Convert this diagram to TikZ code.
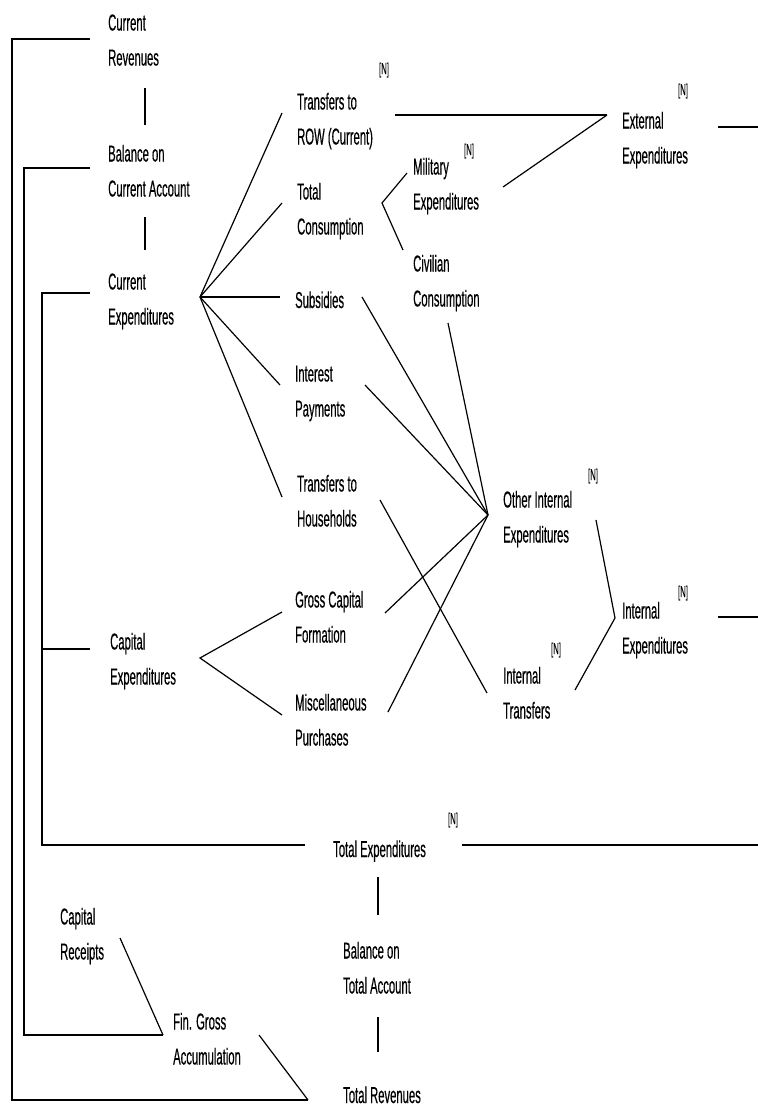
\documentclass[tikz,border=0pt]{standalone}
\usepackage{fontspec}
\setmainfont[FakeStretch=0.49,FakeBold=0.4]{Liberation Sans}
\newcommand\twoline[2]{\strut #1\\\strut #2}
\begin{document}
\begin{tikzpicture}[x=1pt,y=-1pt,
  lbl/.style={font=\fontsize{23}{35}\selectfont, align=left, inner sep=0pt, anchor=west},
  nn/.style={font=\fontsize{16}{16}\selectfont, inner sep=0pt},
  conn/.style={line width=1.2pt}]
\fill[white] (0,0) rectangle (758,1109);
\useasboundingbox (0,0) rectangle (758,1109);
% rails
\coordinate (rail1) at (12,0);
\coordinate (rail2) at (24,0);
\coordinate (rail3) at (42,0);
\coordinate (redge) at (758,0);
% labels
\node[lbl] (curRev)   at (108,41)  {\twoline{Current}{Revenues}};
\node[lbl] (balCur)   at (108,172) {\twoline{Balance on}{Current Account}};
\node[lbl] (curExp)   at (108,300) {\twoline{Current}{Expenditures}};
\node[lbl] (trROW)    at (297,120) {\twoline{Transfers to}{ROW (Current)}};
\node[lbl] (totCons)  at (297,210) {\twoline{Total}{Consumption}};
\node[lbl] (subs)     at (295,301) {\strut Subsidies};
\node[lbl] (interest) at (295,392) {\twoline{Interest}{Payments}};
\node[lbl] (trHH)     at (297,502) {\twoline{Transfers to}{Households}};
\node[lbl] (military) at (413,185) {\twoline{Military}{Expenditures}};
\node[lbl] (civilian) at (413,282) {\twoline{Civilian}{Consumption}};
\node[lbl] (external) at (622,139) {\twoline{External}{Expenditures}};
\node[lbl] (otherInt) at (503,518) {\twoline{Other Internal}{Expenditures}};
\node[lbl] (intExp)   at (622,629) {\twoline{Internal}{Expenditures}};
\node[lbl] (intTr)    at (503,694) {\twoline{Internal}{Transfers}};
\node[lbl] (capExp)   at (110,660) {\twoline{Capital}{Expenditures}};
\node[lbl] (gcf)      at (295,618) {\twoline{Gross Capital}{Formation}};
\node[lbl] (misc)     at (295,721) {\twoline{Miscellaneous}{Purchases}};
\node[lbl] (totExp)   at (333,850) {\strut Total Expenditures};
\node[lbl] (balTot)   at (343,969) {\twoline{Balance on}{Total Account}};
\node[lbl] (totRev)   at (343,1096) {\strut Total Revenues};
\node[lbl] (capRec)   at (60,935)  {\twoline{Capital}{Receipts}};
\node[lbl] (finGross) at (173,1040) {\twoline{Fin. Gross}{Accumulation}};
% [N] marks
\node[nn] (n1) at (384,70)  {[N]};
\node[nn] (n2) at (469,151) {[N]};
\node[nn] (n3) at (683,91)  {[N]};
\node[nn] (n4) at (593,476) {[N]};
\node[nn] (n5) at (683,593) {[N]};
\node[nn] (n6) at (556,650) {[N]};
\node[nn] (n7) at (453,820) {[N]};
% key points
\coordinate (crIn) at ([shift={(-18,-2)}]curRev.west);
\coordinate (trIn) at ([shift={(-35,4)}]totRev.west);
\coordinate (bcIn) at ([shift={(-18,-4)}]balCur.west);
\coordinate (fgIn) at ([shift={(-10,-5)}]finGross.west);
\coordinate (ceIn) at ([shift={(-18,-7)}]curExp.west);
\coordinate (teIn) at ([shift={(-28,-5)}]totExp.west);
\coordinate (cxIn) at ([shift={(-20,-11)}]capExp.west);
\coordinate (ceHub) at ([shift={(92,-3)}]curExp.west);
\coordinate (cxHub) at ([shift={(90,-2)}]capExp.west);
\coordinate (exIn) at ([shift={(-15,-24)}]external.west);
\coordinate (oiHub) at ([shift={(-15,-3)}]otherInt.west);
\coordinate (ieIn) at ([shift={(-7,-11)}]intExp.west);
\coordinate (tcApex) at ([shift={(85,-7)}]totCons.west);
\coordinate (teOut) at ([shift={(129,-5)}]totExp.west);
\coordinate (exOut) at ([shift={(96,-12)}]external.west);
\coordinate (ieOut) at ([shift={(96,-12)}]intExp.west);
% brackets
\draw[conn] (crIn) -- (crIn -| rail1) |- (trIn);
\draw[conn] ([shift={(86,-5)}]finGross.west) -- (trIn);
\draw[conn] (bcIn) -- (bcIn -| rail2) |- (fgIn);
\draw[conn] ([shift={(60,3)}]capRec.west) -- (fgIn);
\draw[conn] (ceIn) -- (ceIn -| rail3) |- (teIn);
\draw[conn] (cxIn) -- (cxIn -| rail3);
% right outputs
\draw[conn] (teOut) -- (teOut -| redge);
\draw[conn] (exOut) -- (exOut -| redge);
\draw[conn] (ieOut) -- (ieOut -| redge);
% verticals
\draw[conn] ([shift={(37,47)}]curRev.west) -- ([shift={(37,-47)}]balCur.west);
\draw[conn] ([shift={(37,45)}]balCur.west) -- ([shift={(37,-50)}]curExp.west);
\draw[conn] ([shift={(45,27)}]totExp.west) -- ([shift={(35,-54)}]balTot.west);
\draw[conn] ([shift={(35,48)}]balTot.west) -- ([shift={(35,-44)}]totRev.west);
% current expenditures fan
\draw[conn] (ceHub) -- ([shift={(-15,-7)}]trROW.west);
\draw[conn] (ceHub) -- ([shift={(-15,-7)}]totCons.west);
\draw[conn] (ceHub) -- ([shift={(-15,-4)}]subs.west);
\draw[conn] (ceHub) -- ([shift={(-15,-7)}]interest.west);
\draw[conn] (ceHub) -- ([shift={(-15,-5)}]trHH.west);
% external
\draw[conn] ([shift={(98,-5)}]trROW.west) -- (exIn);
\draw[conn] ([shift={(90,2)}]military.west) -- (exIn);
% consumption split
\draw[conn] ([shift={(-6,-12)}]military.west) -- (tcApex) -- ([shift={(-10,-32)}]civilian.west);
% other internal
\draw[conn] ([shift={(67,-4)}]subs.west) -- (oiHub);
\draw[conn] ([shift={(70,-7)}]interest.west) -- (oiHub);
\draw[conn] ([shift={(35,41)}]civilian.west) -- (oiHub);
\draw[conn] ([shift={(90,-5)}]gcf.west) -- (oiHub);
\draw[conn] ([shift={(93,-9)}]misc.west) -- (oiHub);
% internal transfers
\draw[conn] ([shift={(83,-2)}]trHH.west) -- ([shift={(-16,-1)}]intTr.west);
% internal expenditures
\draw[conn] ([shift={(93,2)}]otherInt.west) -- (ieIn);
\draw[conn] ([shift={(72,-4)}]intTr.west) -- (ieIn);
% capital expenditures
\draw[conn] ([shift={(-13,-6)}]gcf.west) -- (cxHub) -- ([shift={(-13,-6)}]misc.west);
\end{tikzpicture}
\end{document}
